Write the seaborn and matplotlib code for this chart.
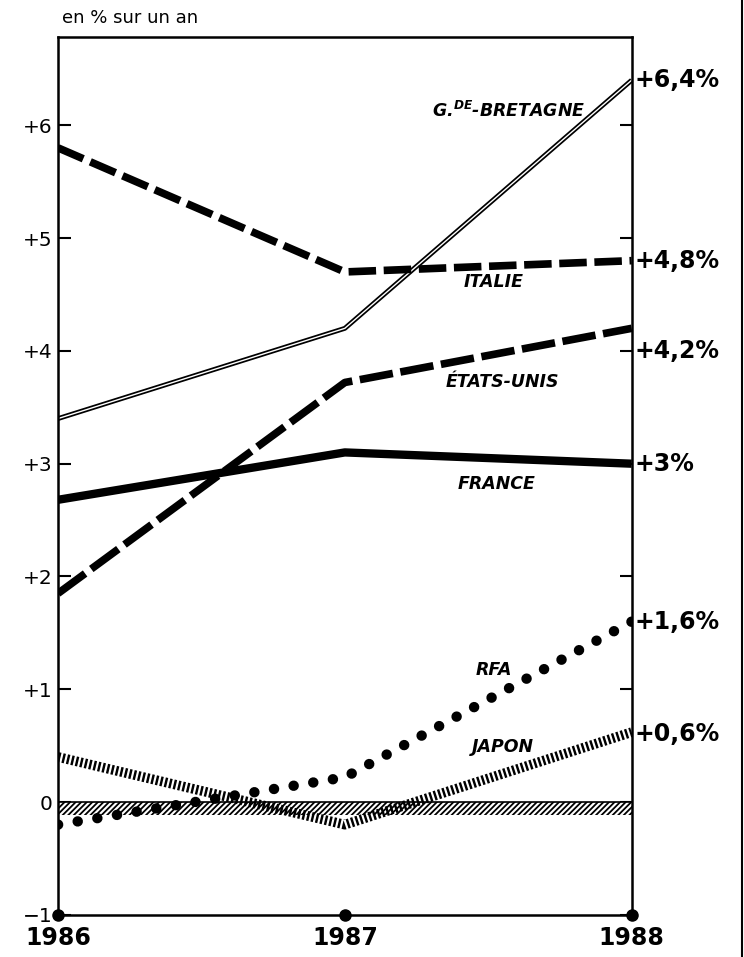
import numpy as np
import pandas as pd
import matplotlib
matplotlib.use('Agg')
import matplotlib.pyplot as plt
import seaborn as sns

# data (% per year)
years = [1986, 1987, 1988]
gb = [3.4, 4.2, 6.4]
italie = [5.8, 4.7, 4.8]
etats_unis = [1.85, 3.72, 4.2]
france = [2.68, 3.1, 3.0]
rfa = [-0.2, 0.22, 1.6]
japon = [0.4, -0.2, 0.62]

names = ['G.$^{\\mathbf{DE}}$-BRETAGNE', 'ITALIE', 'ÉTATS-UNIS', 'FRANCE', 'RFA', 'JAPON']
end_labels = ['+6,4%', '+4,8%', '+4,2%', '+3%', '+1,6%', '+0,6%']
yticks = [-1, 0, 1, 2, 3, 4, 5, 6]
ytick_labels = ['\u22121', '0', '+1', '+2', '+3', '+4', '+5', '+6']

sns.set_style('white')
plt.rcParams['font.family'] = ['DejaVu Sans']
plt.rcParams['text.color'] = 'black'
plt.rcParams['xtick.color'] = 'black'
plt.rcParams['ytick.color'] = 'black'
plt.rcParams['mathtext.fontset'] = 'custom'
plt.rcParams['mathtext.bf'] = 'DejaVu Sans:italic:bold'
plt.rcParams['mathtext.rm'] = 'DejaVu Sans:italic:bold'

fig = plt.figure(figsize=(7.44, 9.57), dpi=100)
ax = fig.add_axes([0.078, 0.044, 0.771, 0.917])

#zero line with hatched band
plt.rcParams['hatch.linewidth'] = 1.3
ax.fill_between([1986, 1988], -0.11, 0, facecolor='white', edgecolor='black', hatch='//////', linewidth=0)
ax.axhline(0, color='black', lw=1.2)

#GB: double line
sns.lineplot(x=years, y=gb, ax=ax, color='black', lw=3.5, solid_capstyle='butt')
sns.lineplot(x=years, y=gb, ax=ax, color='white', lw=1.0, solid_capstyle='butt')
#Italie
sns.lineplot(x=years, y=italie, ax=ax, color='black', lw=5.5, linestyle=(0, (3.6, 1.0)), dash_capstyle='butt')
#Etats-Unis
sns.lineplot(x=years, y=etats_unis, ax=ax, color='black', lw=5.5, linestyle=(0, (4.4, 1.0)), dash_capstyle='butt')
#France
sns.lineplot(x=years, y=france, ax=ax, color='black', lw=6, solid_capstyle='butt')
#RFA dots
sns.lineplot(x=years, y=rfa, ax=ax, color='black', lw=7.5, linestyle=(0, (0.01, 1.9)), dash_capstyle='round')
#Japon stripes
sns.lineplot(x=years, y=japon, ax=ax, color='black', lw=7, linestyle=(0, (0.25, 0.22)), dash_capstyle='butt')

ax.set_xlim(1986, 1988)
ax.set_ylim(-1, 6.78)
ax.set_yticks(yticks)
ax.set_yticklabels(ytick_labels, fontsize=14.5)
ax.set_xticks(years)
ax.set_xticklabels([str(y) for y in years], fontsize=17, fontweight='bold')
ax.tick_params(axis='y', direction='in', length=9, width=1.5, right=True, left=True, pad=4)
ax.tick_params(axis='x', length=0, pad=8)
for s in ax.spines.values():
    s.set_color('black')
    s.set_linewidth(1.8)

#dots on the bottom axis
ax.plot(years, [-1, -1, -1], 'o', color='black', ms=8, clip_on=False, zorder=5)

#series names
label_x = [1987.57, 1987.52, 1987.55, 1987.53, 1987.52, 1987.55]
label_y = [6.13, 4.61, 3.72, 2.82, 1.17, 0.49]
for n, lx, ly in zip(names, label_x, label_y):
    ax.text(lx, ly, n, fontsize=12.5, fontstyle='italic', fontweight='bold',
            ha='center', va='center', color='black')

#end values
ends = [gb[-1], italie[-1], etats_unis[-1], france[-1], rfa[-1], japon[-1]]
offsets = [0.0, 0.0, -0.2, 0.0, 0.0, -0.02]
for v, t, o in zip(ends, end_labels, offsets):
    ax.text(1988.01, v + o, t, fontsize=17, fontweight='bold', ha='left', va='center', color='black')

fig.text(0.083, 0.981, 'en % sur un an', fontsize=13, ha='left', va='center', color='black')
fig.add_artist(plt.Line2D([0.997, 0.997], [0.0, 1.0], color='black', lw=1.5))

plt.savefig('out.png', dpi=100)
